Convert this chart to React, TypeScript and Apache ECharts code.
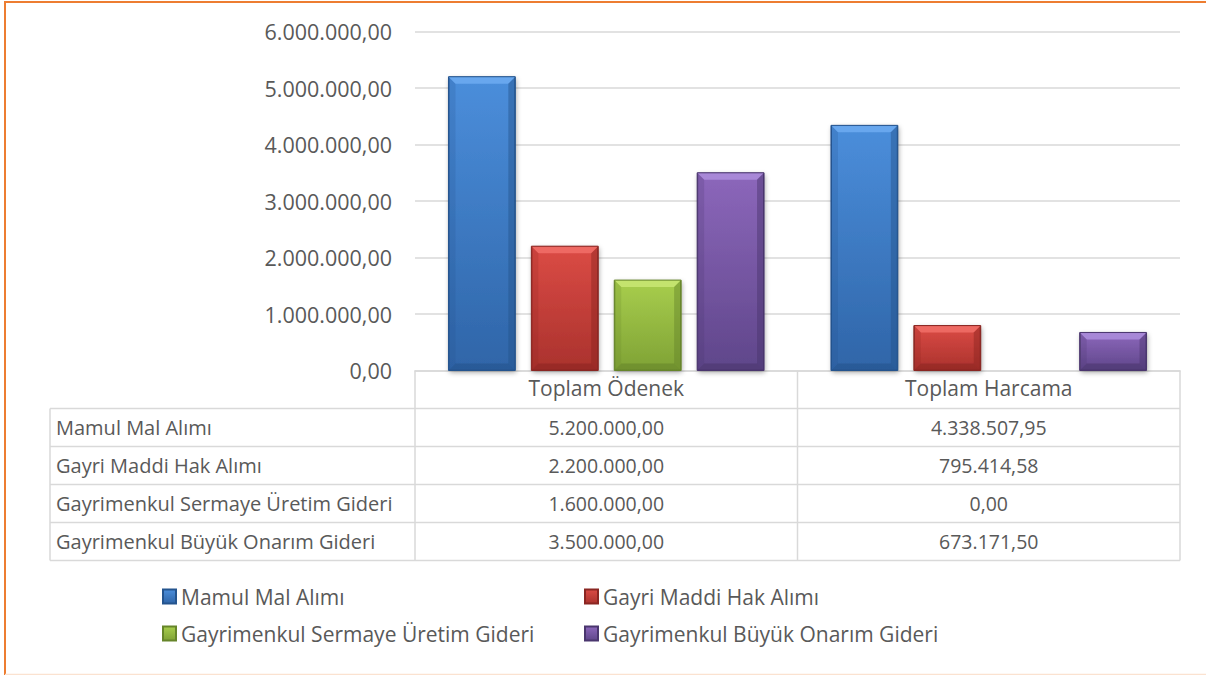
import React, { useEffect, useRef } from "react";
import * as echarts from "echarts";

const categories = ["Toplam Ödenek", "Toplam Harcama"];
const seriesNames = [
  "Mamul Mal Alımı",
  "Gayri Maddi Hak Alımı",
  "Gayrimenkul Sermaye Üretim Gideri",
  "Gayrimenkul Büyük Onarım Gideri",
];
const mamulMal = [5200000, 4338507.95];
const gayriMaddi = [2200000, 795414.58];
const sermayeUretim = [1600000, 0];
const buyukOnarim = [3500000, 673171.5];
const seriesValues = [mamulMal, gayriMaddi, sermayeUretim, buyukOnarim];
const yMax = 6000000;
const yStep = 1000000;

const palette = [
  { top: "#4B8EDB", bottom: "#2F65A8", border: "#24548E", light: "#6CAAF0", dark: "#24528A" },
  { top: "#DB4B45", bottom: "#AA322D", border: "#8A2622", light: "#F06D66", dark: "#8A2420" },
  { top: "#A8CE4D", bottom: "#7FA235", border: "#66852A", light: "#C8E672", dark: "#64832A" },
  { top: "#8C67BB", bottom: "#5F468A", border: "#4A366E", light: "#AB8CDA", dark: "#48346B" },
];

function fmt(v: number): string {
  const [i, d] = v.toFixed(2).split(".");
  return i.replace(/\B(?=(\d{3})+(?!\d))/g, ".") + "," + d;
}

const FONT = "Open Sans";
const TXT = "#595959";
const LINE = "#D9D9D9";

const GRID_L = 415;
const GRID_T = 31.5;
const GRID_W = 765;
const GRID_H = 339;
const CAT_GAP = 0.175;
const BAR_GAP = 0.24;

export default function App() {
  const ref = useRef<HTMLDivElement>(null);
  useEffect(() => {
    if (!ref.current) return;
    const chart = echarts.init(ref.current, null, { renderer: "svg" });

    const bottomY = GRID_T + GRID_H;
    const rowH = 38;
    const tableLeft = 50;
    const colW = GRID_W / categories.length;
    const tableRight = GRID_L + GRID_W;
    const tableBottom = bottomY + rowH * (seriesNames.length + 1);

    const graphics: any[] = [];
    // frame
    graphics.push({ type: "line", shape: { x1: 5, y1: 1, x2: 5, y2: 675 }, style: { stroke: "#ED7D31", lineWidth: 2 } });
    graphics.push({ type: "line", shape: { x1: 4, y1: 2, x2: 1206, y2: 2 }, style: { stroke: "#ED7D31", lineWidth: 2 } });
    graphics.push({ type: "line", shape: { x1: 5, y1: 674.5, x2: 1206, y2: 674.5 }, style: { stroke: "#FBE2D0", lineWidth: 1.5 } });

    // table lines
    for (let r = 1; r <= seriesNames.length + 1; r++) {
      const y = bottomY + r * rowH;
      graphics.push({ type: "line", shape: { x1: tableLeft, y1: y, x2: tableRight, y2: y }, style: { stroke: LINE, lineWidth: 1.5 } });
    }
    graphics.push({ type: "line", shape: { x1: tableLeft, y1: bottomY + rowH, x2: tableLeft, y2: tableBottom }, style: { stroke: LINE, lineWidth: 1.5 } });
    for (let c = 0; c <= categories.length; c++) {
      const x = GRID_L + c * colW;
      graphics.push({ type: "line", shape: { x1: x, y1: bottomY, x2: x, y2: tableBottom }, style: { stroke: LINE, lineWidth: 1.5 } });
    }
    // table texts
    seriesNames.forEach((name, r) => {
      const cy = bottomY + rowH * (r + 1) + rowH / 2;
      graphics.push({
        type: "text",
        x: tableLeft + 6,
        y: cy,
        style: { text: name, fill: TXT, font: `20px "${FONT}"`, textAlign: "left", textVerticalAlign: "middle" },
      });
      seriesValues[r].forEach((v, c) => {
        graphics.push({
          type: "text",
          x: GRID_L + c * colW + colW / 2,
          y: cy,
          style: { text: fmt(v), fill: TXT, font: `19.5px "${FONT}"`, textAlign: "center", textVerticalAlign: "middle" },
        });
      });
    });

    const barSeries = seriesNames.map((name, s) => ({
      name,
      type: "bar",
      data: seriesValues[s],
      barGap: BAR_GAP * 100 + "%",
      barCategoryGap: CAT_GAP * 100 + "%",
      itemStyle: {
        color: new echarts.graphic.LinearGradient(0, 0, 0, 1, [
          { offset: 0, color: palette[s].top },
          { offset: 1, color: palette[s].bottom },
        ]),
        borderColor: palette[s].border,
        borderWidth: 1,
        shadowBlur: 5,
        shadowColor: "rgba(0,0,0,0.35)",
        shadowOffsetX: 1,
        shadowOffsetY: 2,
      },
      z: 2,
    }));

    const nSeries = seriesNames.length;
    const bevelSeries = seriesNames.map((name, s) => ({
      name: "bevel_" + s,
      type: "custom",
      silent: true,
      z: 3,
      data: seriesValues[s].map((v, i) => [i, v]),
      renderItem: (params: any, api: any) => {
        const v = api.value(1);
        if (!v) return null;
        const topPt = api.coord([api.value(0), v]);
        const basePt = api.coord([api.value(0), 0]);
        const band = api.size([1, 0])[0];
        const used = band * (1 - CAT_GAP);
        const bw = used / (nSeries + (nSeries - 1) * BAR_GAP);
        const x0 = topPt[0] - used / 2 + s * bw * (1 + BAR_GAP);
        const x1 = x0 + bw;
        const t = topPt[1];
        const b = basePt[1];
        const k = Math.min(7, (b - t) / 2);
        return {
          type: "group",
          children: [
            { type: "polygon", shape: { points: [[x0, t], [x1, t], [x1 - k, t + k], [x0 + k, t + k]] }, style: { fill: palette[s].light, opacity: 0.9 } },
            { type: "polygon", shape: { points: [[x1, t], [x1, b], [x1 - k, b - k], [x1 - k, t + k]] }, style: { fill: palette[s].dark, opacity: 0.45 } },
            { type: "polygon", shape: { points: [[x0, b], [x1, b], [x1 - k, b - k], [x0 + k, b - k]] }, style: { fill: palette[s].dark, opacity: 0.55 } },
            { type: "polygon", shape: { points: [[x0, t], [x0 + k, t + k], [x0 + k, b - k], [x0, b]] }, style: { fill: palette[s].dark, opacity: 0.2 } },
            { type: "rect", shape: { x: x0, y: t, width: bw, height: b - t }, style: { fill: "none", stroke: palette[s].border, lineWidth: 1 } },
          ],
        };
      },
    }));

    const legendCommon = {
      orient: "vertical",
      itemWidth: 13,
      itemHeight: 14,
      itemGap: 16,
      icon: "rect",
      textStyle: { color: TXT, fontFamily: FONT, fontSize: 21 },
      selectedMode: false,
    };

    chart.setOption({
      animation: false,
      textStyle: { fontFamily: FONT },
      grid: { left: GRID_L, top: GRID_T, width: GRID_W, height: GRID_H },
      legend: [
        { ...legendCommon, left: 157, top: 581, data: [seriesNames[0], seriesNames[2]] },
        { ...legendCommon, left: 579, top: 581, data: [seriesNames[1], seriesNames[3]] },
      ],
      xAxis: {
        type: "category",
        data: categories,
        axisLine: { show: true, lineStyle: { color: LINE, width: 1.5 } },
        axisTick: { show: false },
        axisLabel: { color: TXT, fontFamily: FONT, fontSize: 21, margin: 7 },
      },
      yAxis: {
        type: "value",
        min: 0,
        max: yMax,
        interval: yStep,
        axisLine: { show: false },
        axisTick: { show: false },
        splitLine: { lineStyle: { color: LINE, width: 1.5 } },
        axisLabel: { color: TXT, fontFamily: FONT, fontSize: 21.5, margin: 23, formatter: (v: number) => fmt(v) },
      },
      series: [...barSeries, ...bevelSeries],
      graphic: graphics,
    });
    return () => chart.dispose();
  }, []);
  return <div ref={ref} style={{ position: "absolute", left: 0, top: 0, width: 1206, height: 675 }} />;
}
